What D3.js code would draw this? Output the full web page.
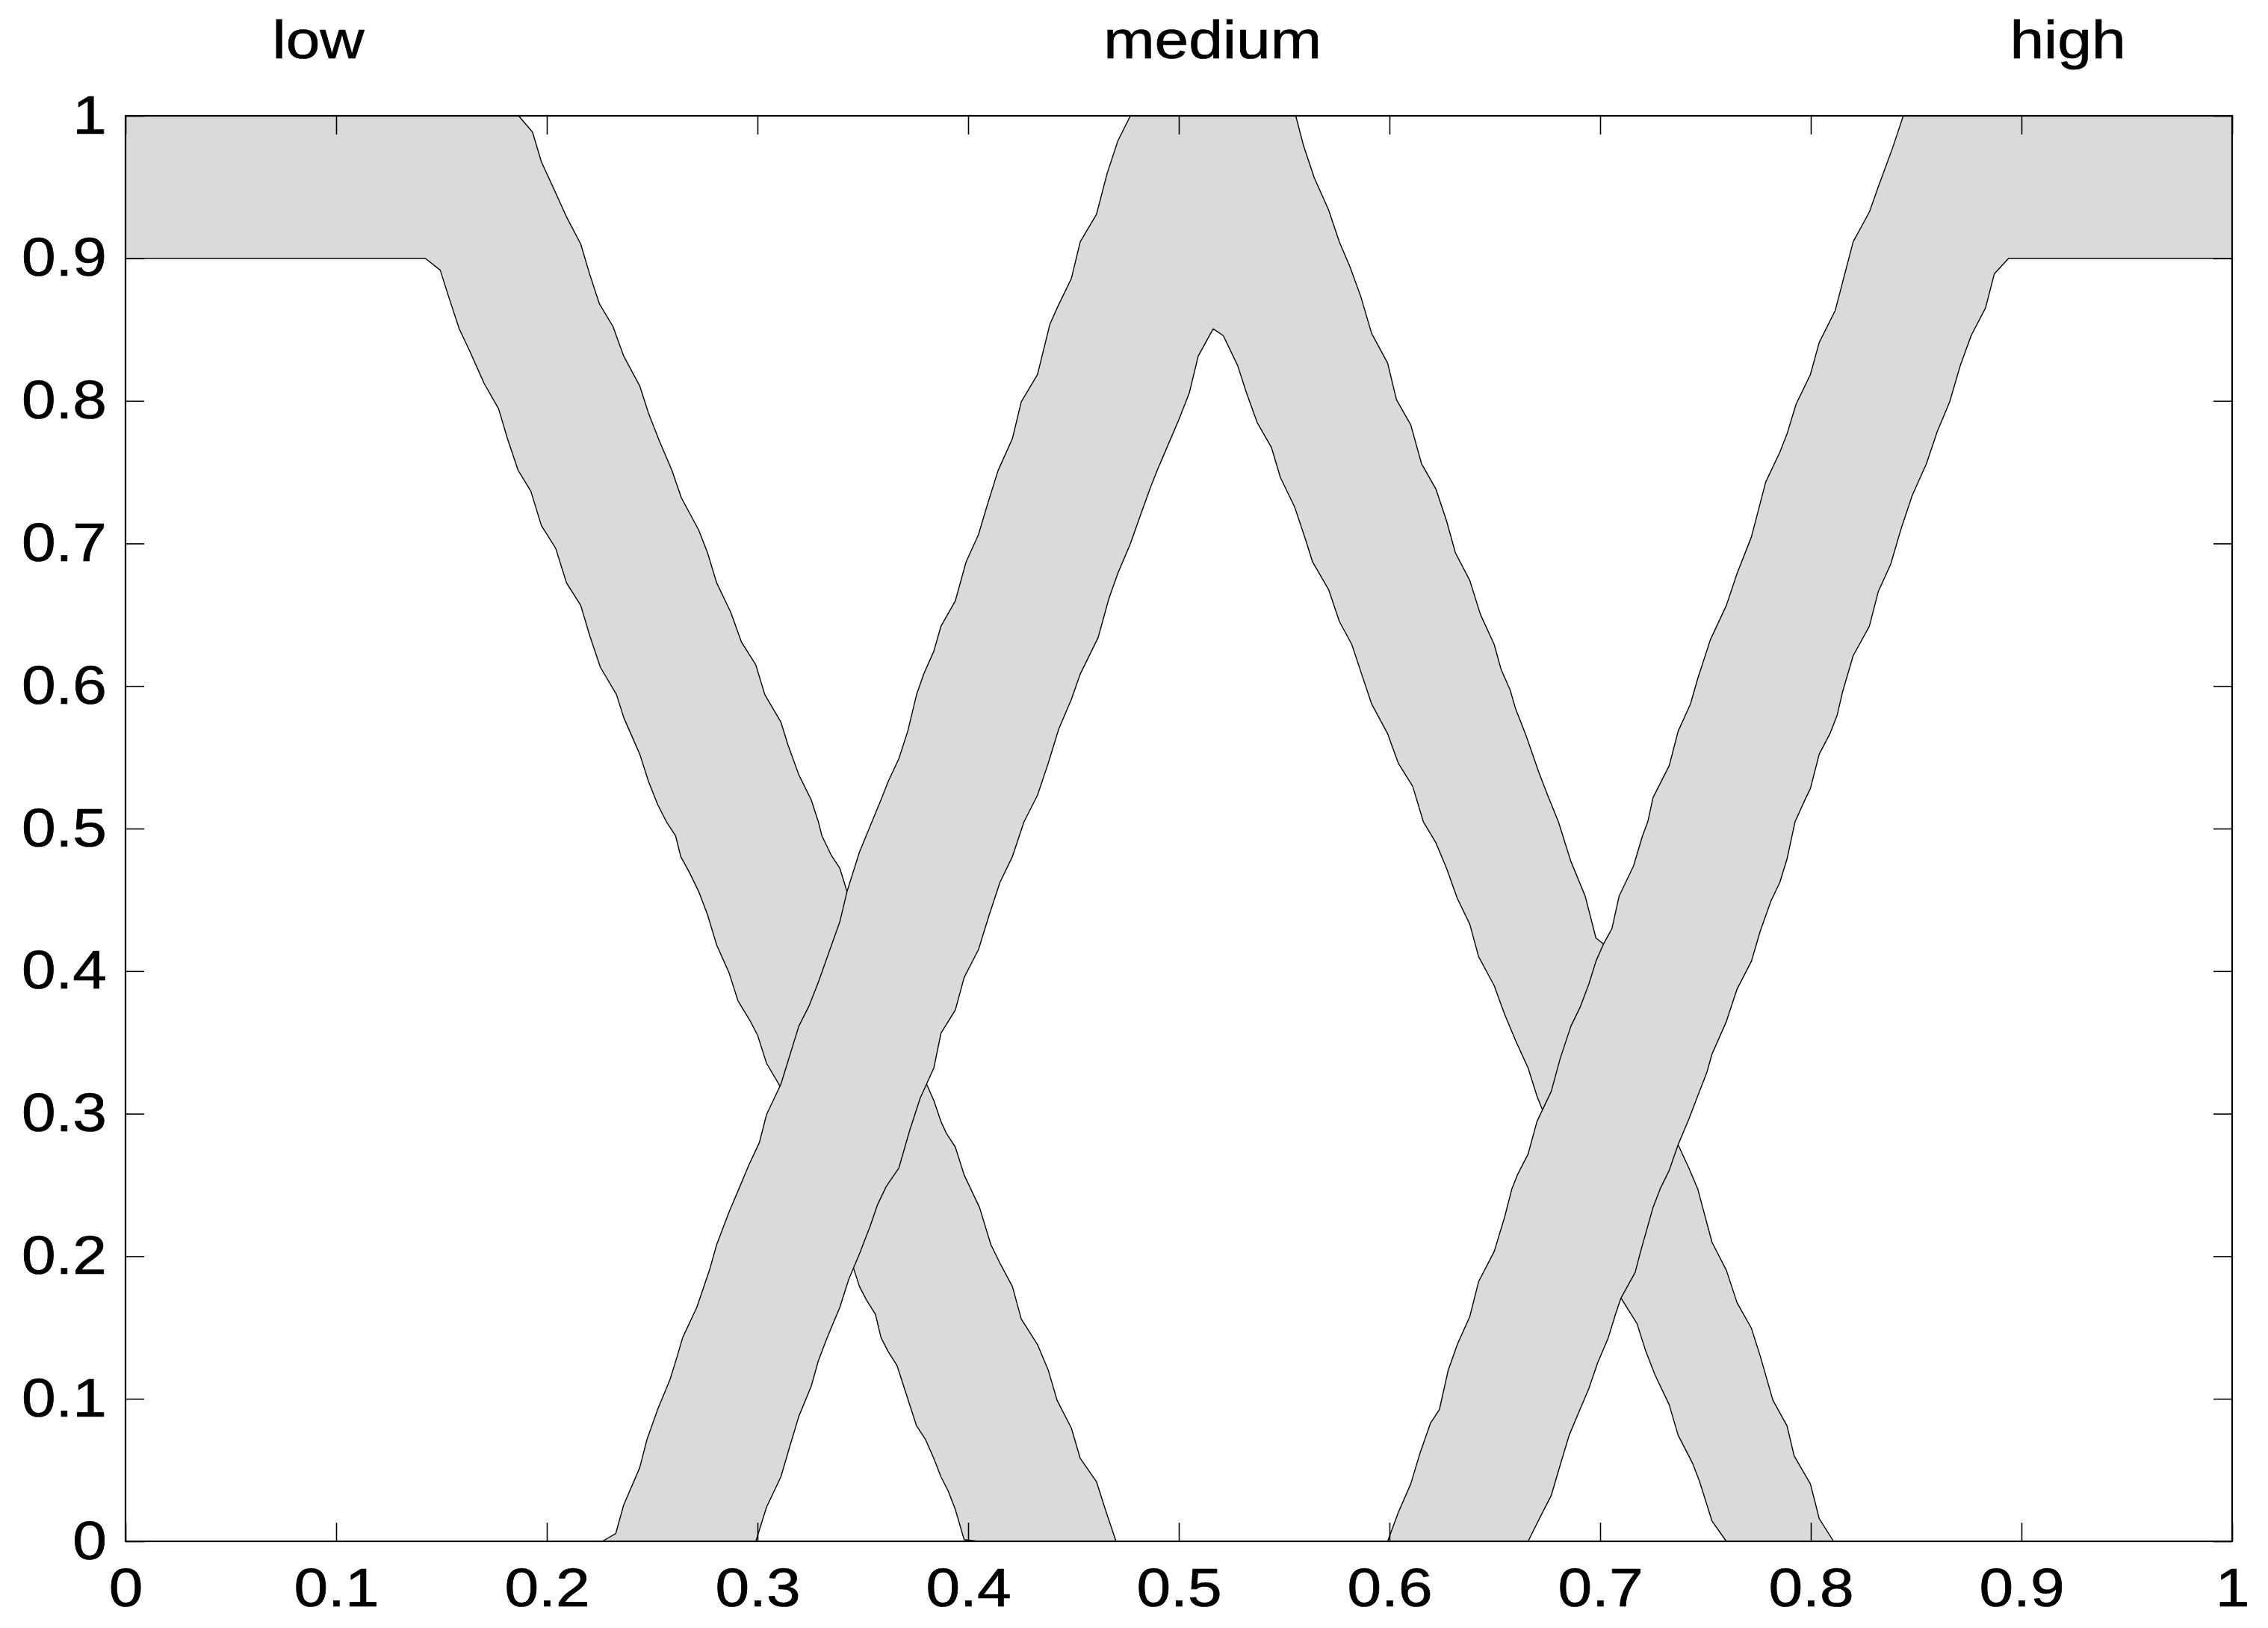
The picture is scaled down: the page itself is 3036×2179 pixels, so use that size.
<!DOCTYPE html>
<html lang="en">
<head>
<meta charset="UTF-8">
<title>Interval type-2 fuzzy sets</title>
<script src="https://d3js.org/d3.v7.min.js"></script>
<style>
  html, body { margin: 0; padding: 0; background: #fff; }
  text { font-family: "Liberation Sans", Arial, Helvetica, sans-serif; }
</style>
</head>
<body>
<script>
// membership functions, [x, mu]
const lowUpper = [[0,1],[0.1866,1],[0.1932,0.9886],[0.1974,0.9678],[0.2034,0.9485],[0.2093,0.9292],[0.2161,0.9100],[0.2203,0.8891],[0.2249,0.8683],[0.2314,0.8522],[0.2365,0.8314],[0.2441,0.8105],[0.2483,0.7913],[0.2534,0.7720],[0.2594,0.7512],[0.2639,0.7319],[0.2721,0.7094],[0.2763,0.6934],[0.2806,0.6725],[0.2873,0.6517],[0.2924,0.6308],[0.2992,0.6148],[0.3035,0.5939],[0.3111,0.5747],[0.3145,0.5586],[0.3196,0.5378],[0.3255,0.5202],[0.3289,0.5047],[0.3306,0.4949],[0.3348,0.4819],[0.3391,0.4721],[0.3425,0.4558],[0.3620,0.3874],[0.3803,0.3206],[0.3837,0.3092],[0.3871,0.2945],[0.3896,0.2864],[0.3939,0.2766],[0.3981,0.2570],[0.4054,0.2342],[0.4108,0.2081],[0.4151,0.1951],[0.4210,0.1788],[0.4252,0.1560],[0.4329,0.1381],[0.4380,0.1202],[0.4422,0.0990],[0.4490,0.0794],[0.4532,0.0582],[0.4609,0.0419],[0.4651,0.0224],[0.4702,0]];
const lowLower = [[0,0.9],[0.1423,0.9],[0.1494,0.8917],[0.1534,0.8731],[0.1584,0.8506],[0.1635,0.8346],[0.1669,0.8233],[0.1703,0.8121],[0.1771,0.7945],[0.1813,0.7736],[0.1864,0.7512],[0.1924,0.7367],[0.1974,0.7126],[0.2042,0.6966],[0.2093,0.6725],[0.2161,0.6565],[0.2203,0.6356],[0.2254,0.6132],[0.2331,0.5939],[0.2365,0.5779],[0.2441,0.5522],[0.2483,0.5329],[0.2526,0.5169],[0.2568,0.5047],[0.2611,0.4949],[0.2636,0.4803],[0.2678,0.4689],[0.2721,0.4558],[0.2763,0.4395],[0.2806,0.4184],[0.2865,0.3988],[0.2907,0.3793],[0.2967,0.3646],[0.3001,0.3548],[0.3043,0.3353],[0.3102,0.3206],[0.3281,0.2554],[0.3459,0.1902],[0.3484,0.1788],[0.3518,0.1691],[0.3560,0.1593],[0.3586,0.1430],[0.3620,0.1332],[0.3662,0.1234],[0.3705,0.1038],[0.3755,0.0810],[0.3798,0.0713],[0.3837,0.0582],[0.3871,0.0452],[0.3905,0.0354],[0.3939,0.0224],[0.3981,0.0012],[0.4049,0]];

const mediumUpper = [[0.2263,0],[0.2327,0.0054],[0.2365,0.0256],[0.2441,0.0517],[0.2475,0.0713],[0.2526,0.0925],[0.2585,0.1136],[0.2619,0.1299],[0.2645,0.1430],[0.2712,0.1642],[0.2772,0.1902],[0.2806,0.2081],[0.2865,0.2310],[0.2907,0.2456],[0.2958,0.2636],[0.3009,0.2798],[0.3043,0.2994],[0.3111,0.3206],[0.3145,0.3369],[0.3196,0.3613],[0.3246,0.3760],[0.3289,0.3923],[0.3340,0.4135],[0.3391,0.4347],[0.3425,0.4558],[0.3484,0.4835],[0.3543,0.5047],[0.3586,0.5201],[0.3620,0.5329],[0.3671,0.5490],[0.3713,0.5682],[0.3755,0.5939],[0.3789,0.6084],[0.3837,0.6244],[0.3871,0.6420],[0.3939,0.6597],[0.3990,0.6870],[0.4049,0.7062],[0.4091,0.7271],[0.4142,0.7511],[0.4210,0.7736],[0.4252,0.7993],[0.4329,0.8185],[0.4388,0.8538],[0.4422,0.8651],[0.4490,0.8859],[0.4532,0.9116],[0.4609,0.9309],[0.4660,0.9597],[0.4710,0.9822],[0.4770,1],[0.5555,1],[0.5592,0.9790],[0.5643,0.9565],[0.5711,0.9340],[0.5762,0.9116],[0.5813,0.8939],[0.5864,0.8731],[0.5915,0.8474],[0.5991,0.8266],[0.6033,0.8009],[0.6101,0.7832],[0.6152,0.7560],[0.6220,0.7383],[0.6271,0.7158],[0.6313,0.6934],[0.6381,0.6741],[0.6432,0.6501],[0.6497,0.6292],[0.6530,0.6116],[0.6573,0.5971],[0.6598,0.5843],[0.6649,0.5650],[0.6709,0.5394],[0.6751,0.5233],[0.6802,0.5047],[0.6861,0.4770],[0.6929,0.4526],[0.6980,0.4232],[0.7014,0.4193],[0.7192,0.3483],[0.7370,0.2782],[0.7421,0.2619],[0.7463,0.2473],[0.7531,0.2098],[0.7599,0.1902],[0.7650,0.1674],[0.7718,0.1495],[0.7760,0.1299],[0.7820,0.0990],[0.7887,0.0810],[0.7921,0.0599],[0.7998,0.0403],[0.8040,0.0159],[0.8108,0]];
const mediumLower = [[0.2992,0],[0.3043,0.0240],[0.3111,0.0452],[0.3153,0.0664],[0.3196,0.0876],[0.3255,0.1088],[0.3289,0.1267],[0.3331,0.1430],[0.3391,0.1642],[0.3433,0.1837],[0.3484,0.2016],[0.3535,0.2212],[0.3569,0.2359],[0.3611,0.2489],[0.3671,0.2619],[0.3722,0.2880],[0.3772,0.3108],[0.3837,0.3320],[0.3871,0.3564],[0.3939,0.3727],[0.3981,0.3955],[0.4049,0.4151],[0.4100,0.4395],[0.4151,0.4623],[0.4210,0.4803],[0.4265,0.5047],[0.4329,0.5233],[0.4380,0.5458],[0.4430,0.5698],[0.4490,0.5907],[0.4532,0.6084],[0.4617,0.6340],[0.4668,0.6613],[0.4710,0.6789],[0.4770,0.6998],[0.4812,0.7174],[0.4863,0.7383],[0.4897,0.7512],[0.4948,0.7688],[0.4999,0.7864],[0.5050,0.8057],[0.5092,0.8314],[0.5163,0.8506],[0.5211,0.8458],[0.5279,0.8249],[0.5321,0.8057],[0.5372,0.7848],[0.5440,0.7672],[0.5482,0.7463],[0.5550,0.7255],[0.5601,0.7030],[0.5635,0.6870],[0.5711,0.6677],[0.5762,0.6453],[0.5821,0.6292],[0.5864,0.6100],[0.5915,0.5875],[0.5991,0.5666],[0.6042,0.5458],[0.6110,0.5297],[0.6161,0.5047],[0.6220,0.4901],[0.6271,0.4721],[0.6322,0.4510],[0.6381,0.4330],[0.6423,0.4102],[0.6497,0.3898],[0.6547,0.3695],[0.6598,0.3515],[0.6658,0.3320],[0.6700,0.3124],[0.6726,0.3027],[0.6912,0.2375],[0.7099,0.1707],[0.7175,0.1527],[0.7217,0.1332],[0.7260,0.1169],[0.7328,0.0957],[0.7370,0.0745],[0.7438,0.0550],[0.7472,0.0419],[0.7531,0.0142],[0.7599,0]];

const highUpper = [[0.5991,0],[0.6042,0.0203],[0.6101,0.0403],[0.6144,0.0615],[0.6194,0.0827],[0.6237,0.0925],[0.6279,0.1202],[0.6322,0.1381],[0.6381,0.1576],[0.6423,0.1821],[0.6497,0.2033],[0.6547,0.2277],[0.6581,0.2473],[0.6607,0.2570],[0.6658,0.2717],[0.6700,0.2945],[0.6768,0.3157],[0.6810,0.3385],[0.6861,0.3613],[0.6904,0.3744],[0.6946,0.3907],[0.6980,0.4069],[0.7014,0.4184],[0.7056,0.4298],[0.7090,0.4526],[0.7158,0.4737],[0.7201,0.4949],[0.7226,0.5047],[0.7251,0.5217],[0.7328,0.5442],[0.7370,0.5682],[0.7429,0.5875],[0.7463,0.6051],[0.7523,0.6324],[0.7599,0.6565],[0.7650,0.6790],[0.7718,0.7046],[0.7786,0.7431],[0.7853,0.7640],[0.7887,0.7768],[0.7930,0.7977],[0.7998,0.8185],[0.8040,0.8410],[0.8116,0.8635],[0.8133,0.8731],[0.8201,0.9116],[0.8278,0.9325],[0.8320,0.9501],[0.8388,0.9774],[0.8439,1],[1,1]];
const highLower = [[0.6658,0],[0.6717,0.0175],[0.6768,0.0322],[0.6810,0.0533],[0.6853,0.0745],[0.6895,0.0892],[0.6946,0.1071],[0.6988,0.1251],[0.7039,0.1430],[0.7073,0.1593],[0.7099,0.1707],[0.7166,0.1886],[0.7192,0.2033],[0.7251,0.2342],[0.7285,0.2473],[0.7328,0.2603],[0.7370,0.2782],[0.7421,0.2961],[0.7463,0.3124],[0.7506,0.3287],[0.7531,0.3418],[0.7599,0.3646],[0.7650,0.3874],[0.7718,0.4069],[0.7760,0.4281],[0.7811,0.4493],[0.7853,0.4623],[0.7887,0.4786],[0.7925,0.5047],[0.7972,0.5201],[0.7998,0.5281],[0.8040,0.5522],[0.8091,0.5666],[0.8125,0.5795],[0.8150,0.5955],[0.8201,0.6212],[0.8278,0.6420],[0.8320,0.6661],[0.8379,0.6854],[0.8430,0.7110],[0.8481,0.7335],[0.8549,0.7560],[0.8600,0.7784],[0.8659,0.7993],[0.8710,0.8250],[0.8761,0.8458],[0.8829,0.8651],[0.8871,0.8891],[0.8939,0.9],[1,0.9]];

const setNames = ["low", "medium", "high"];
const setLabelX = [0.0915, 0.516, 0.922];
const xTicks = [0, 0.1, 0.2, 0.3, 0.4, 0.5, 0.6, 0.7, 0.8, 0.9, 1];
const yTicks = [0, 0.1, 0.2, 0.3, 0.4, 0.5, 0.6, 0.7, 0.8, 0.9, 1];

const sets = [
    {name: setNames[0], upper: lowUpper, lower: lowLower},
    {name: setNames[1], upper: mediumUpper, lower: mediumLower},
    {name: setNames[2], upper: highUpper, lower: highLower}
];

const width = 3036, height = 2179;
const marginLeft = 168, marginRight = 48, marginTop = 155, marginBottom = 116;
const fontSize = 72, stretch = 1.14;   // the original text is a bit wider than Arial
const tickLen = 25;

const x = d3.scaleLinear().domain([0, 1]).range([marginLeft, width - marginRight]);
const y = d3.scaleLinear().domain([0, 1]).range([height - marginBottom, marginTop]);

const svg = d3.select("body").append("svg")
    .attr("width", width)
    .attr("height", height)
    .style("display", "block");

svg.append("rect").attr("width", width).attr("height", height).attr("fill", "#fff");

// bands, drawn in order so later sets cover the outlines of earlier ones
const line = d3.line().x(d => x(d[0])).y(d => y(d[1]));
svg.append("g")
    .selectAll("path").data(sets).join("path")
    .attr("d", d => line(d.upper.concat(d.lower.slice().reverse())) + "Z")
    .attr("fill", "#dadada")
    .attr("stroke", "#000")
    .attr("stroke-width", 1.4)
    .attr("stroke-linejoin", "round");

// axes with inward ticks on all four sides
const fmt = d => d3.format("~g")(d);
const gx = svg.append("g")
    .attr("transform", `translate(0,${y(0)})`)
    .call(d3.axisBottom(x).tickValues(xTicks).tickFormat(fmt).tickSize(-tickLen).tickPadding(36));
const gxTop = svg.append("g")
    .attr("transform", `translate(0,${y(1)})`)
    .call(d3.axisTop(x).tickValues(xTicks).tickFormat("").tickSize(-tickLen));
const gy = svg.append("g")
    .attr("transform", `translate(${x(0)},0)`)
    .call(d3.axisLeft(y).tickValues(yTicks).tickFormat(fmt).tickSize(-tickLen).tickPadding(25 / stretch));
const gyRight = svg.append("g")
    .attr("transform", `translate(${x(1)},0)`)
    .call(d3.axisRight(y).tickValues(yTicks).tickFormat("").tickSize(-tickLen));

[gx, gxTop, gy, gyRight].forEach(g => {
    g.select(".domain").remove();
    g.selectAll(".tick line").attr("stroke", "#000").attr("stroke-width", 1.6);
    g.selectAll(".tick text")
        .attr("fill", "#000")
        .attr("stroke", "#000")
        .attr("stroke-width", 0.7)
        .style("font-size", fontSize + "px")
        .attr("font-family", null)
        .attr("transform", `scale(${stretch},1)`);
});
gy.selectAll(".tick text").attr("x", -25 / stretch);

// frame
svg.append("rect")
    .attr("x", x(0)).attr("y", y(1))
    .attr("width", x(1) - x(0)).attr("height", y(0) - y(1))
    .attr("fill", "none")
    .attr("stroke", "#000")
    .attr("stroke-width", 2.2);

// set names above the plot
svg.append("g")
    .selectAll("text").data(setNames).join("text")
    .attr("transform", (d, i) => `translate(${x(setLabelX[i])},78) scale(${stretch},1)`)
    .attr("text-anchor", "middle")
    .style("font-size", fontSize + "px")
    .attr("fill", "#000")
    .attr("stroke", "#000")
    .attr("stroke-width", 0.7)
    .text(d => d);
</script>
</body>
</html>
